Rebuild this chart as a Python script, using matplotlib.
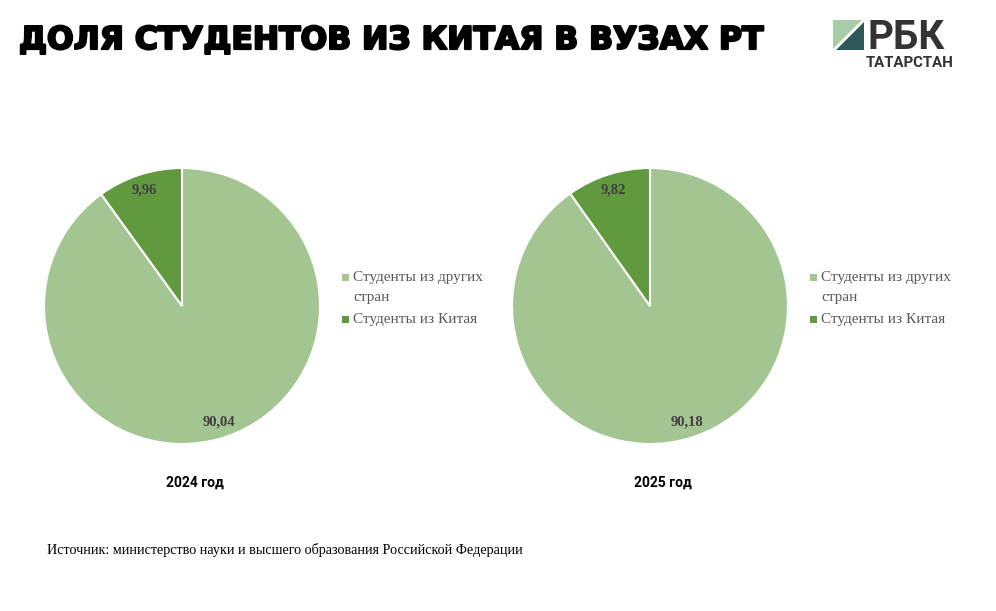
import matplotlib.pyplot as plt
import matplotlib.patheffects as pe
from matplotlib.patches import Polygon

# data
years = ['2024 год', '2025 год']
categories = ['Студенты из других\nстран', 'Студенты из Китая']
other_share = [90.04, 90.18]
china_share = [9.96, 9.82]

colors = ['#A3C591', '#619A3E']
W, H = 996, 611

fig = plt.figure(figsize=(W / 100, H / 100), dpi=100)
fig.patch.set_facecolor('white')

# overlay axes in pixel coords for texts and logo
ov = fig.add_axes([0, 0, 1, 1])
ov.set_xlim(0, W)
ov.set_ylim(H, 0)
ov.axis('off')

ov.text(19, 49, 'ДОЛЯ СТУДЕНТОВ ИЗ КИТАЯ В ВУЗАХ РТ', fontsize=22.6,
        fontfamily='DejaVu Sans', fontweight='heavy', color='black', va='baseline',
        path_effects=[pe.withStroke(linewidth=1.6, foreground='black')])

# logo
ov.add_patch(Polygon([(833, 20), (862, 20), (833, 49)], closed=True,
                     facecolor='#A8CBA8', edgecolor='none'))
ov.add_patch(Polygon([(864, 22), (864, 50), (836, 50)], closed=True,
                     facecolor='#2E5859', edgecolor='none'))
ov.text(867, 49, 'РБК', fontsize=29, fontfamily='Roboto', fontweight='bold',
        color='#333333', va='baseline')
ov.text(866, 67, 'ТАТАРСТАН', fontsize=10.8, fontfamily='Roboto', fontweight='bold',
        color='#333333', va='baseline')

ov.text(47, 554, 'Источник: министерство науки и высшего образования Российской Федерации',
        fontsize=10.15, fontfamily='Liberation Serif', color='black', va='baseline')

centers = [182, 650]
R = 138
for i, cx in enumerate(centers):
    cy = 306
    ax = fig.add_axes([(cx - R) / W, 1 - (cy + R) / H, 2 * R / W, 2 * R / H])
    vals = [other_share[i], china_share[i]]
    wedges, _, autotexts = ax.pie(
        vals, colors=colors, startangle=90, counterclock=False,
        autopct=lambda p: f'{p:.2f}'.replace('.', ','), pctdistance=0.88,
        wedgeprops=dict(edgecolor='white', linewidth=1.5),
        textprops=dict(fontfamily='Liberation Serif', fontweight='bold',
                       fontsize=10.5, color='#404040'))
    ax.set_xlim(-1, 1)
    ax.set_ylim(-1, 1)
    ax.set_aspect('equal')

    # legend
    lx = cx + 164
    rows = [(278, categories[0].split('\n')[0], colors[0]),
            (297, categories[0].split('\n')[1], None),
            (320, categories[1], colors[1])]
    for y, txt, c in rows:
        if c is not None:
            ov.add_patch(plt.Rectangle((lx - 4, y - 4), 7, 7, facecolor=c, edgecolor='none'))
        ov.text(lx + 7, y, txt, fontsize=11, fontfamily='Liberation Serif',
                color='#595959', va='center')

    ov.text(cx + 13, 483, years[i], fontsize=10, fontfamily='Roboto', fontweight='bold',
            color='black', ha='center', va='center')

fig.savefig('out.png', dpi=100)
